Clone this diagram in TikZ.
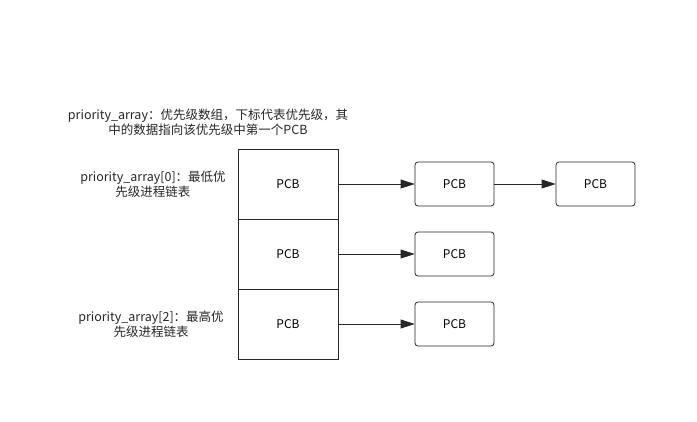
\documentclass[tikz,border=0pt]{standalone}
\usepackage{fontspec}
\setmainfont{Noto Sans CJK SC}
\usetikzlibrary{arrows.meta,positioning}
\tikzset{
  cell/.style={draw=black!85,minimum width=100pt,minimum height=70pt,inner sep=0pt},
  pcb/.style={draw=black!85,rounded corners=3pt,minimum width=79pt,minimum height=44pt,inner sep=0pt},
  link/.style={-{Triangle[length=14pt,width=9pt]},black!85},
  note/.style={align=center,font=\fontsize{12.5}{15}\selectfont,text=black!85}
}
\begin{document}
\begin{tikzpicture}[x=1pt,y=-1pt,font=\fontsize{12}{14}\selectfont,thick]
\useasboundingbox (0,0) rectangle (697,421);
\node[cell] (a0) at (288,184) {PCB};
\node[cell] (a1) at (288,254) {PCB};
\node[cell] (a2) at (288,324) {PCB};
\node[pcb] (p0) at (454.5,184) {PCB};
\node[pcb] (q0) at (595.5,184) {PCB};
\node[pcb] (p1) at (454.5,254) {PCB};
\node[pcb] (p2) at (454.5,324) {PCB};
\draw[link] (a0.east) -- (p0);
\draw[link] (p0) -- (q0);
\draw[link] (a1.east) -- (p1);
\draw[link] (a2.east) -- (p2);
\node[note] (title) at (208,122) {priority\_array：优先级数组，下标代表优先级，其\\中的数据指向该优先级中第一个PCB};
\node[note] (low) at (153,184) {priority\_array[0]：最低优\\先级进程链表};
\node[note] (high) at (151,324) {priority\_array[2]：最高优\\先级进程链表};
\end{tikzpicture}
\end{document}
